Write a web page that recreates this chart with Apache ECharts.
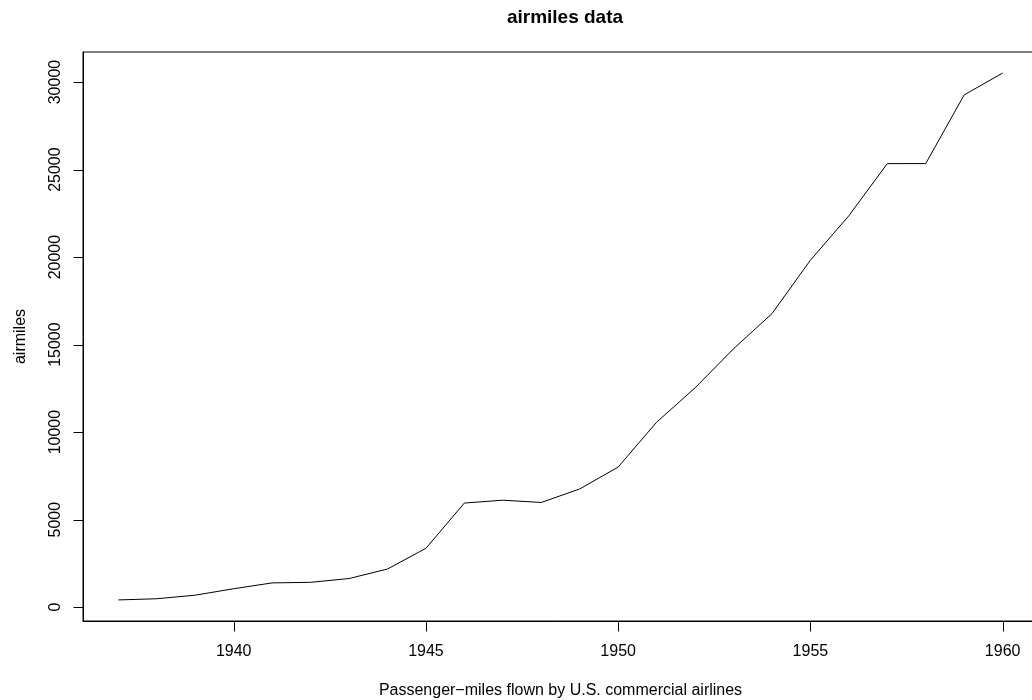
<!DOCTYPE html>
<html>
<head>
<meta charset="utf-8">
<title>airmiles data</title>
<script src="https://cdn.jsdelivr.net/npm/echarts@6/dist/echarts.min.js"></script>
<style>
  html, body { margin: 0; padding: 0; background: #ffffff; }
  #chart { width: 1032px; height: 700px; }
</style>
</head>
<body>
<div id="chart"></div>
<script>
// Passenger-miles flown by U.S. commercial airlines, 1937-1960
const years = [1937, 1938, 1939, 1940, 1941, 1942, 1943, 1944, 1945, 1946, 1947, 1948,
               1949, 1950, 1951, 1952, 1953, 1954, 1955, 1956, 1957, 1958, 1959, 1960];
const airmiles = [412, 480, 683, 1052, 1385, 1418, 1634, 2178, 3362, 5948, 6109, 5981,
                  6753, 8003, 10566, 12528, 14760, 16769, 19819, 22362, 25340, 25343, 29269, 30514];
const xTicks = [1940, 1945, 1950, 1955, 1960];
const yTicks = [0, 5000, 10000, 15000, 20000, 25000, 30000];

// axis ranges padded by 4% on each side
const xSpan = years[years.length - 1] - years[0];
const xMin = years[0] - 0.04 * xSpan;
const xMax = years[years.length - 1] + 0.04 * xSpan;
const yLo = Math.min(...airmiles), yHi = Math.max(...airmiles);
const yMin = yLo - 0.04 * (yHi - yLo);
const yMax = yHi + 0.04 * (yHi - yLo);

const FONT = 'Liberation Sans, Arial, Helvetica, sans-serif';
const TICK_LEN = 10;
const chart = echarts.init(document.getElementById('chart'), null, { renderer: 'canvas' });

// outward tick marks placed through the axis scales
function tickSeries(values, onX) {
  return {
    type: 'custom',
    silent: true,
    clip: false,
    data: values,
    renderItem: (params, api) => {
      const v = api.value(0);
      const p = onX ? api.coord([v, yMin]) : api.coord([xMin, v]);
      const x = Math.round(p[0]) + 0.5, y = Math.round(p[1]) + 0.5;
      const shape = onX ? { x1: x, y1: y, x2: x, y2: y + TICK_LEN }
                        : { x1: x, y1: y, x2: x - TICK_LEN, y2: y };
      return { type: 'line', shape, style: { stroke: '#000', lineWidth: 1 } };
    }
  };
}

chart.setOption({
  animation: false,
  backgroundColor: '#ffffff',
  title: {
    text: 'airmiles data',
    left: 560,
    textAlign: 'center',
    top: 3,
    textStyle: { fontFamily: FONT, fontWeight: 'bold', fontSize: 19, color: '#000' }
  },
  grid: {
    left: 83, top: 52, width: 955, height: 569,
    containLabel: false,
    outerBoundsMode: 'none',
    show: true, borderColor: '#000', borderWidth: 1, backgroundColor: 'transparent'
  },
  xAxis: {
    type: 'value',
    min: xMin, max: xMax,
    name: 'Passenger\u2212miles flown by U.S. commercial airlines',
    nameLocation: 'middle',
    nameGap: 62,
    nameTextStyle: { fontFamily: FONT, fontSize: 16, color: '#000' },
    splitLine: { show: false },
    axisLine: { show: true, onZero: false, lineStyle: { color: '#000', width: 1 } },
    axisTick: { show: false },
    axisLabel: { customValues: xTicks, margin: 23, fontFamily: FONT, fontSize: 16, color: '#000',
                 formatter: v => String(v) }
  },
  yAxis: {
    type: 'value',
    min: yMin, max: yMax,
    name: 'airmiles',
    nameLocation: 'middle',
    nameGap: 54,
    nameRotate: 90,
    nameTextStyle: { fontFamily: FONT, fontSize: 16, color: '#000' },
    splitLine: { show: false },
    axisLine: { show: true, onZero: false, lineStyle: { color: '#000', width: 1 } },
    axisTick: { show: false },
    axisLabel: { customValues: yTicks, rotate: 90, margin: 19, fontFamily: FONT, fontSize: 16,
                 color: '#000', formatter: v => String(v) }
  },
  series: [
    {
      type: 'line',
      data: years.map((y, i) => [y, airmiles[i]]),
      showSymbol: false,
      symbol: 'none',
      lineStyle: { color: '#000', width: 1 },
      silent: true
    },
    tickSeries(xTicks, true),
    tickSeries(yTicks, false)
  ]
});
</script>
</body>
</html>
